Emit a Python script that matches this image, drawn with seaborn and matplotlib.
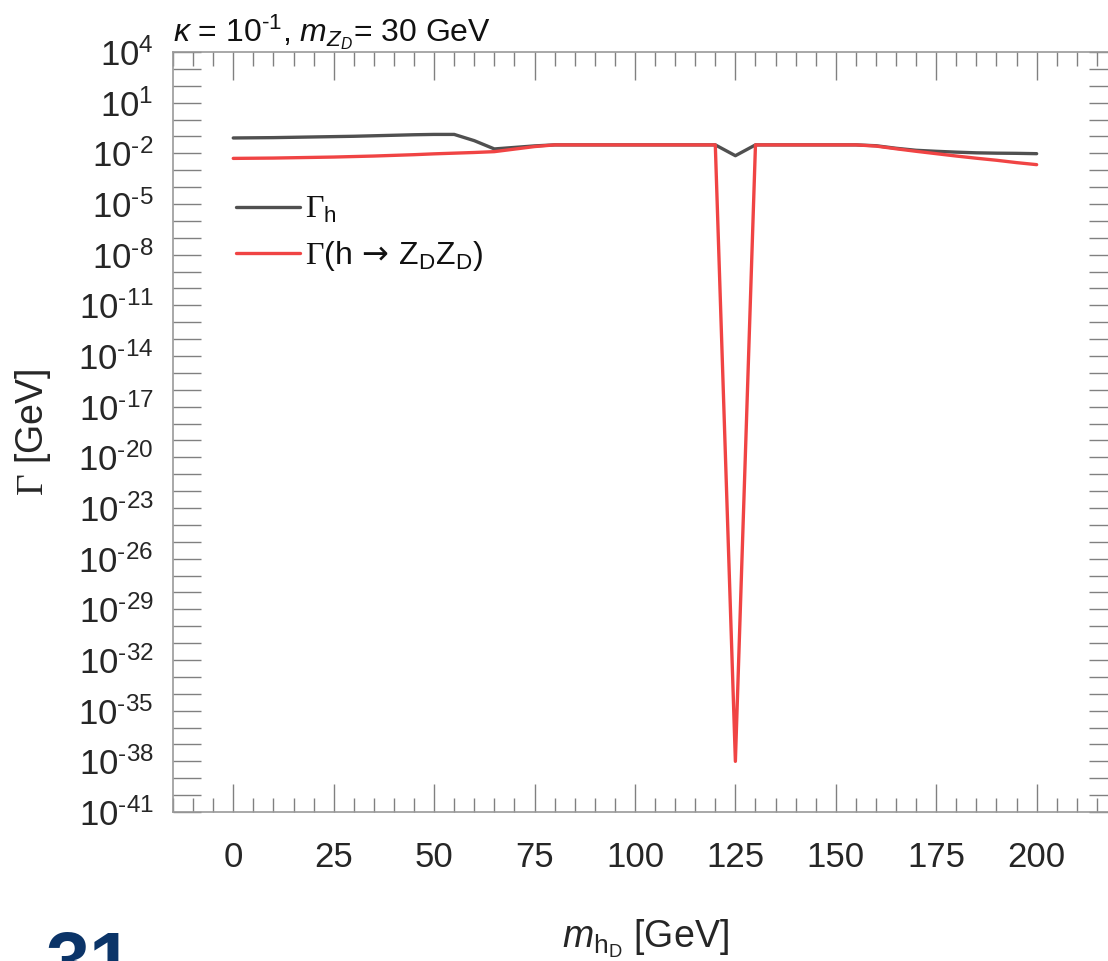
import numpy as np
import pandas as pd
import matplotlib
matplotlib.use("Agg")
import matplotlib.pyplot as plt
from matplotlib.ticker import FixedLocator, MultipleLocator, FuncFormatter, NullLocator
from matplotlib.lines import Line2D
import seaborn as sns

# ---- data ----
m_hD = [0, 5, 10, 15, 20, 25, 30, 35, 40, 45, 50, 55, 60, 65, 70, 75, 80, 85, 90, 95,
        100, 105, 110, 115, 120, 125, 130, 135, 140, 145, 150, 155, 160, 165, 170, 175,
        180, 185, 190, 195, 200]
# log10 of Gamma_h [GeV]
log_gamma_h = [-1.09, -1.08, -1.07, -1.05, -1.03, -1.01, -0.99, -0.96, -0.93, -0.90,
               -0.88, -0.88, -1.25, -1.74, -1.65, -1.56, -1.50, -1.50, -1.50, -1.50,
               -1.50, -1.50, -1.50, -1.50, -1.50, -2.14, -1.50, -1.50, -1.50, -1.50,
               -1.50, -1.50, -1.55, -1.70, -1.82, -1.88, -1.93, -1.97, -1.99, -2.00, -2.02]
# log10 of Gamma(h -> Z_D Z_D) [GeV]
log_gamma_zz = [-2.30, -2.29, -2.28, -2.26, -2.24, -2.22, -2.19, -2.16, -2.12, -2.08,
                -2.03, -1.99, -1.95, -1.90, -1.75, -1.60, -1.50, -1.50, -1.50, -1.50,
                -1.50, -1.50, -1.50, -1.50, -1.50, -38.0, -1.50, -1.50, -1.50, -1.50,
                -1.50, -1.50, -1.57, -1.73, -1.88, -2.02, -2.16, -2.29, -2.41, -2.55, -2.67]
series_names = [r"$\mathsf{\Gamma}_\mathrm{h}$",
                r"$\mathsf{\Gamma}(\mathrm{h}\,\mathcal{\rightarrow}\,\mathrm{Z}_\mathrm{D}\mathrm{Z}_\mathrm{D})$"]
series_colors = ["#505050", "#f04444"]
ytick_exponents = list(range(-41, 5))
xtick_major = [0, 25, 50, 75, 100, 125, 150, 175, 200]

# ---- style ----
sns.set_style("white")
plt.rcParams["font.family"] = ["Liberation Sans", "DejaVu Sans"]
plt.rcParams["mathtext.fontset"] = "custom"
plt.rcParams["mathtext.rm"] = "Liberation Sans"
plt.rcParams["mathtext.it"] = "Liberation Sans:italic"
plt.rcParams["mathtext.bf"] = "Liberation Sans:bold"
plt.rcParams["mathtext.sf"] = "Liberation Serif"
plt.rcParams["mathtext.cal"] = "DejaVu Sans"
plt.rcParams["text.color"] = "#111111"

HY = "\u2010"  # plain hyphen used in the exponents

df = pd.DataFrame({
    "m": m_hD * 2,
    "Gamma": list(10.0 ** np.array(log_gamma_h)) + list(10.0 ** np.array(log_gamma_zz)),
    "series": [series_names[0]] * len(m_hD) + [series_names[1]] * len(m_hD),
})

W, H = 1108, 961
fig = plt.figure(figsize=(W / 100, H / 100), dpi=100)
ax = fig.add_axes([173 / W, (H - 812) / H, (1117 - 173) / W, (812 - 52) / H])

sns.lineplot(data=df, x="m", y="Gamma", hue="series",
             palette=dict(zip(series_names, series_colors)),
             linewidth=2.4, ax=ax, legend=False, sort=False)

ax.set_yscale("log")
ax.set_ylim(1e-41, 1e4)
ax.set_xlim(-15, 220)

ax.yaxis.set_major_locator(FixedLocator([10.0 ** k for k in ytick_exponents]))
ax.yaxis.set_minor_locator(NullLocator())

def yfmt(v, pos):
    k = int(round(np.log10(v)))
    if k % 3 == 1:
        s = str(k).replace("-", HY)
        return "10$^{%s}$" % s
    return ""

ax.yaxis.set_major_formatter(FuncFormatter(yfmt))
ax.xaxis.set_major_locator(FixedLocator(xtick_major))
ax.xaxis.set_minor_locator(MultipleLocator(5))

tick_col = "#808080"
ax.tick_params(axis="y", which="major", direction="in", length=20, width=1.0,
               color=tick_col, left=True, right=True, labelsize=25, pad=14)
ax.tick_params(axis="x", which="major", direction="in", length=20, width=1.0,
               color=tick_col, bottom=True, top=True, labelsize=25, pad=21)
ax.tick_params(axis="x", which="minor", direction="in", length=10, width=1.0,
               color=tick_col, bottom=True, top=True)
for s in ax.spines.values():
    s.set_color("#999999")
    s.set_linewidth(1.2)

ax.set_xlabel(r"$m_{\mathrm{h}_\mathrm{D}}$ [GeV]", fontsize=27, labelpad=31)
ax.set_ylabel(r"$\mathsf{\Gamma}$ [GeV]", fontsize=27, labelpad=18)
ax.set_title(r"$\kappa$ = 10$^{" + HY + r"1}$, $m_{Z_D}$= 30 GeV", loc="left",
             fontsize=23, pad=8)

handles = [Line2D([], [], color=c, lw=2.4) for c in series_colors]
ax.legend(handles, series_names, loc="upper left", bbox_to_anchor=(0.067, 0.812),
          frameon=False, fontsize=23, handlelength=2.0, handletextpad=0.15,
          labelspacing=0.45, borderaxespad=0, borderpad=0)

fig.text(45 / W, 1 - 930 / H, "31", va="top", ha="left", fontsize=57,
         fontweight="bold", color="#0b3468")

fig.savefig("out.png", dpi=100)
